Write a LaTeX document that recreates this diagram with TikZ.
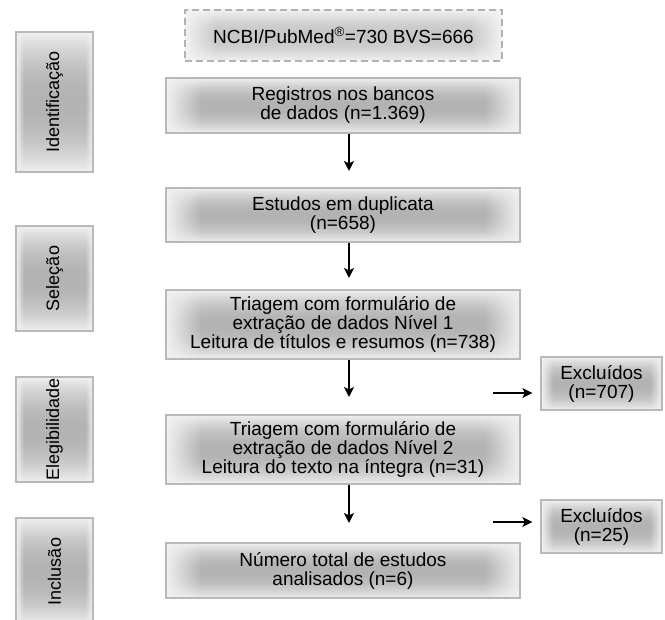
\documentclass[tikz,border=0pt]{standalone}
\usepackage{fontspec}
\setmainfont{Liberation Sans}
\usetikzlibrary{arrows.meta}
% degrade: claro nas bordas, cinza no meio
\pgfdeclarefunctionalshading{cinza}{\pgfpoint{-50bp}{-50bp}}{\pgfpoint{50bp}{50bp}}{}{
  abs 25 div dup 1 gt {pop 1} if dup mul 1 exch sub
  exch abs 25 exch sub 5 div dup 1 gt {pop 1} if dup 0 lt {pop 0} if
  mul 0.24 mul 0.94 exch sub dup dup}
\pgfdeclarefunctionalshading{cinzaclaro}{\pgfpoint{-50bp}{-50bp}}{\pgfpoint{50bp}{50bp}}{}{
  abs 25 div dup 1 gt {pop 1} if dup mul 1 exch sub
  exch abs 25 exch sub 5 div dup 1 gt {pop 1} if dup 0 lt {pop 0} if
  mul 0.17 mul 0.95 exch sub dup dup}
\tikzset{
  caixa/.style={draw=gray!55, line width=1.3pt, shading=cinza,
    align=center, text=black, inner sep=0pt, font=\fontsize{19}{19}\selectfont},
  fonte/.style={caixa, draw=gray!60, dashed, dash pattern=on 7pt off 4pt, shading=cinzaclaro},
  fase/.style={caixa, rotate=90, minimum height=77pt, font=\fontsize{18}{20}\selectfont},
  seta/.style={-{Stealth[length=10pt,width=10pt,inset=2.5pt]}, line width=1.8pt, black}
}
\begin{document}
\begin{tikzpicture}[x=1pt,y=-1pt]
\useasboundingbox (0,0) rectangle (665,620);

% fases
\node[fase, minimum width=140pt] (ident) at (54.5,102) {Identificação};
\node[fase, minimum width=105pt] (sel) at (54.5,278.5) {Seleção};
\node[fase, minimum width=105pt] (eleg) at (54.5,429.5) {Elegibilidade};
\node[fase, minimum width=107pt] (incl) at (54.5,571.5) {Inclusão};

% fluxo
\node[fonte, minimum width=317pt, minimum height=51pt] (src) at (343.5,35.5) {NCBI/PubMed\textsuperscript{®}=730 BVS=666};
\node[caixa, minimum width=354pt, minimum height=55pt] (reg) at (343,105.5) {Registros nos bancos\\de dados (n=1.369)};
\node[caixa, minimum width=354pt, minimum height=54pt] (dup) at (343,215) {Estudos em duplicata\\(n=658)};
\node[caixa, minimum width=354pt, minimum height=69pt] (tri1) at (343,324.5) {Triagem com formulário de\\extração de dados Nível 1\\Leitura de títulos e resumos (n=738)};
\node[caixa, minimum width=354pt, minimum height=69pt] (tri2) at (343,449.5) {Triagem com formulário de\\extração de dados Nível 2\\Leitura do texto na íntegra (n=31)};
\node[caixa, minimum width=354pt, minimum height=55pt] (tot) at (343,570.5) {Número total de estudos\\analisados (n=6)};

\node[caixa, minimum width=121pt, minimum height=53pt] (exc1) at (601.5,383.5) {Excluídos\\(n=707)};
\node[caixa, minimum width=121pt, minimum height=53pt] (exc2) at (601.5,526.5) {Excluídos\\(n=25)};

% setas
\coordinate (p1) at (349,171);
\coordinate (p2) at (349,278);
\coordinate (p3) at (349,397);
\coordinate (p4) at (349,523);
\draw[seta] (reg.south -| p1) -- (p1);
\draw[seta] (dup.south -| p2) -- (p2);
\draw[seta] (tri1.south -| p3) -- (p3);
\draw[seta] (tri2.south -| p4) -- (p4);

\coordinate (q1) at (493,393);
\coordinate (q2) at (493,522);
\draw[seta] (q1) -- ([xshift=-8pt]exc1.west |- q1);
\draw[seta] (q2) -- ([xshift=-8pt]exc2.west |- q2);

\end{tikzpicture}
\end{document}
